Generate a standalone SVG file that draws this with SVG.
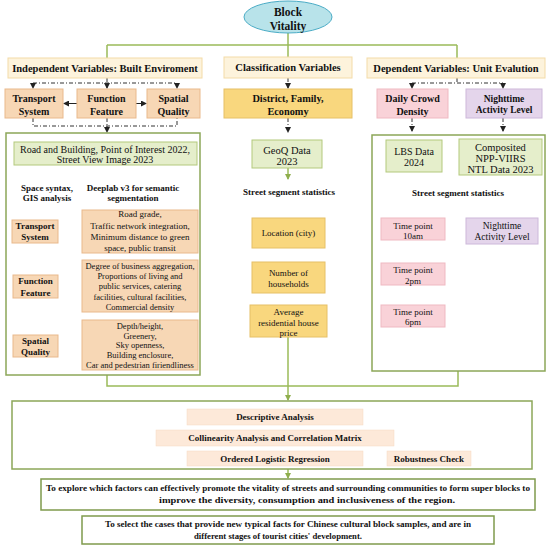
<svg xmlns="http://www.w3.org/2000/svg" width="550" height="547" viewBox="0 0 550 547">
<style>
text{font-family:"Liberation Serif","Times New Roman",serif;fill:#111;text-anchor:middle}
.b{font-weight:bold}
.hdr{fill:#fdf3dc;stroke:#f3dba8;stroke-width:1}
.peach{fill:#f7d7b5;stroke:#e9b98c;stroke-width:1}
.gold{fill:#f9d77e;stroke:#e6c067;stroke-width:1}
.lg{fill:#e5eecb;stroke:#b3c97d;stroke-width:1}
.pink{fill:#f9d2d8;stroke:#efb9c2;stroke-width:1}
.lav{fill:#e4d5eb;stroke:#cdb8da;stroke-width:1}
.ana{fill:#fde9d9;stroke:#f6d9c3;stroke-width:0.5}
.frame{fill:#fff;stroke:#8ca758;stroke-width:1.5}
.gl{fill:none;stroke:#9bbb59;stroke-width:1.5}
.dd{fill:none;stroke:#333;stroke-width:1;stroke-dasharray:4 2 1 2}
.bk{fill:none;stroke:#222;stroke-width:1}
.or{fill:none;stroke:#f0a35e;stroke-width:1}
.ord{fill:none;stroke:#f0a35e;stroke-width:1;stroke-dasharray:3 2}
</style>
<defs>
<marker id="ab" markerWidth="6" markerHeight="6" refX="5" refY="3" orient="auto" markerUnits="userSpaceOnUse"><path d="M0,0 L6,3 L0,6 z" fill="#222"/></marker>
<marker id="ag" markerWidth="6" markerHeight="6" refX="5" refY="3" orient="auto" markerUnits="userSpaceOnUse"><path d="M0,0 L6,3 L0,6 z" fill="#8fae4e"/></marker>
<marker id="ao" markerWidth="6" markerHeight="6" refX="5" refY="3" orient="auto" markerUnits="userSpaceOnUse"><path d="M0,0 L6,3 L0,6 z" fill="#f0a35e"/></marker>
</defs>

<g id="connectors">
<path class="gl" d="M288,33 V45 M107,45 H457 M107,45 V58 M288,45 V57 M457,45 V58"/>
<path class="dd" d="M107,78 V88" marker-end="url(#ab)"/>
<path class="dd" d="M33,83 H177"/>
<path class="dd" d="M33,83 V88" marker-end="url(#ab)"/>
<path class="dd" d="M177,83 V88" marker-end="url(#ab)"/>
<path class="bk" d="M77,103.5 H64" marker-end="url(#ab)"/>
<path class="bk" d="M136,103.5 H146" marker-end="url(#ab)"/>
<path class="dd" d="M33,118 V126 H177 V118 M107,118 V126"/>
<path class="dd" d="M107,126 V132" marker-end="url(#ab)"/>
<path class="gl" d="M47,165 V177" marker-end="url(#ag)"/>
<path class="gl" d="M148,165 V177" marker-end="url(#ag)"/>
<path class="or" d="M58,232 H81" marker-end="url(#ao)"/>
<path class="or" d="M58,287 H81" marker-end="url(#ao)"/>
<path class="dd" d="M288,78 V88" marker-end="url(#ab)"/>
<path class="dd" d="M288,118 V132" marker-end="url(#ab)"/>
<path class="gl" d="M288,168 V179" marker-end="url(#ag)"/>
<path class="dd" d="M457,78 V83 M412,83 H503"/>
<path class="dd" d="M412,83 V88" marker-end="url(#ab)"/>
<path class="dd" d="M503,83 V88" marker-end="url(#ab)"/>
<path class="dd" d="M412,118 V131" marker-end="url(#ab)"/>
<path class="dd" d="M503,118 V131" marker-end="url(#ab)"/>
<path class="gl" d="M412,172 V186" marker-end="url(#ag)"/>
<path class="gl" d="M503,175 V186" marker-end="url(#ag)"/>
<path class="gl" d="M107,375 V386 H458 V371"/>
<path class="gl" d="M288,337 V400" marker-end="url(#ag)"/>
<path class="ord" d="M387,458.5 H364" marker-end="url(#ao)"/>
<path class="gl" d="M288,469 V478" marker-end="url(#ag)"/>
</g>

<g id="block-vitality">
<ellipse cx="288" cy="17" rx="44" ry="16" fill="#b8e3ea" stroke="#4bacc6" stroke-width="1"/>
<text class="b" x="288" y="16" font-size="11.5">Block</text>
<text class="b" x="288" y="29.5" font-size="11.5">Vitality</text>
</g>

<g id="hdr-independent">
<rect class="hdr" x="8" y="58" width="194" height="20"/>
<text class="b" x="105" y="71.5" font-size="10.5">Independent Variables: Built Enviroment</text>
</g>
<g id="hdr-classification">
<rect class="hdr" x="224" y="57" width="128" height="21"/>
<text class="b" x="288" y="71" font-size="10.5">Classification Variables</text>
</g>
<g id="hdr-dependent">
<rect class="hdr" x="367" y="58" width="178" height="20"/>
<text class="b" x="456" y="71.5" font-size="10.5">Dependent Variables: Unit Evalution</text>
</g>

<g id="transport-top">
<rect class="peach" x="5" y="89" width="58" height="29"/>
<text class="b" x="34" y="101.5" font-size="10">Transport</text>
<text class="b" x="34" y="114.5" font-size="10">System</text>
</g>
<g id="function-top">
<rect class="peach" x="77" y="89" width="59" height="29"/>
<text class="b" x="106.5" y="101.5" font-size="10">Function</text>
<text class="b" x="106.5" y="114.5" font-size="10">Feature</text>
</g>
<g id="spatial-top">
<rect class="peach" x="147" y="89" width="53" height="29"/>
<text class="b" x="173.5" y="101.5" font-size="10">Spatial</text>
<text class="b" x="173.5" y="114.5" font-size="10">Quality</text>
</g>

<g id="district">
<rect class="gold" x="224" y="89" width="128" height="29"/>
<text class="b" x="288" y="101.5" font-size="10.3">District, Family,</text>
<text class="b" x="288" y="114.5" font-size="10.3">Economy</text>
</g>

<g id="daily-crowd">
<rect class="pink" x="377" y="89" width="71" height="29"/>
<text class="b" x="412.5" y="101.5" font-size="10">Daily Crowd</text>
<text class="b" x="412.5" y="114.5" font-size="10">Density</text>
</g>
<g id="nighttime-top">
<rect class="lav" x="466" y="89" width="76" height="29"/>
<text class="b" x="504" y="101.6" font-size="9.5">Nighttime</text>
<text class="b" x="504" y="113.3" font-size="9.5">Activity Level</text>
</g>

<g id="left-frame">
<rect class="frame" x="6" y="133" width="194" height="242"/>
</g>
<g id="left-data">
<rect class="lg" x="14" y="142" width="183" height="23"/>
<text x="105" y="152.5" font-size="10">Road and Building, Point of Interest 2022,</text>
<text x="105" y="162.5" font-size="10">Street View Image 2023</text>
</g>
<g id="space-syntax">
<text class="b" x="47" y="191" font-size="9">Space syntax,</text>
<text class="b" x="47" y="200.5" font-size="9">GIS analysis</text>
</g>
<g id="deeplab">
<text class="b" x="133" y="191" font-size="9">Deeplab v3 for semantic</text>
<text class="b" x="133" y="200.5" font-size="9">segmentation</text>
</g>

<g id="transport-inner">
<rect class="peach" x="12" y="220" width="46" height="23"/>
<text class="b" x="35" y="229" font-size="9">Transport</text>
<text class="b" x="35" y="240" font-size="9">System</text>
</g>
<g id="transport-desc">
<rect class="peach" x="82" y="210" width="116" height="43"/>
<text x="140" y="217.3" font-size="9">Road grade,</text>
<text x="140" y="228.7" font-size="9">Traffic network integration,</text>
<text x="140" y="239.7" font-size="9">Minimum distance to green</text>
<text x="140" y="250.7" font-size="9">space, public transit</text>
</g>

<g id="function-inner">
<rect class="peach" x="13" y="275" width="45" height="23"/>
<text class="b" x="35.5" y="284" font-size="9">Function</text>
<text class="b" x="35.5" y="295.5" font-size="9">Feature</text>
</g>
<g id="function-desc">
<rect class="peach" x="82" y="260" width="116" height="52"/>
<text x="140" y="269" font-size="8.5">Degree of business aggregation,</text>
<text x="140" y="279.2" font-size="8.5">Proportions of living and</text>
<text x="140" y="289.4" font-size="8.5">public services, catering</text>
<text x="140" y="299.6" font-size="8.5">facilities, cultural facilities,</text>
<text x="140" y="309.8" font-size="8.5">Commercial density</text>
</g>

<g id="spatial-inner">
<rect class="peach" x="13" y="335" width="45" height="22"/>
<text class="b" x="35.5" y="343.5" font-size="9">Spatial</text>
<text class="b" x="35.5" y="354.5" font-size="9">Quality</text>
</g>
<g id="spatial-desc">
<rect class="peach" x="82" y="320" width="116" height="50"/>
<text x="140" y="329" font-size="8.5">Depth/height,</text>
<text x="140" y="338.7" font-size="8.5">Greenery,</text>
<text x="140" y="348.4" font-size="8.5">Sky openness,</text>
<text x="140" y="358.1" font-size="8.5">Building enclosure,</text>
<text x="140" y="367.8" font-size="8.5">Car and pedestrian firiendliness</text>
</g>

<g id="geoq">
<rect class="lg" x="252" y="140" width="70" height="28"/>
<text x="287" y="153.5" font-size="10.5">GeoQ Data</text>
<text x="287" y="164.5" font-size="10.5">2023</text>
</g>
<g id="mid-stats">
<text class="b" x="289" y="195" font-size="9">Street segment statistics</text>
</g>
<g id="location">
<rect class="gold" x="252" y="218" width="73" height="30"/>
<text x="288.5" y="236" font-size="9">Location (city)</text>
</g>
<g id="households">
<rect class="gold" x="252" y="262" width="73" height="31"/>
<text x="288.5" y="276" font-size="9">Number of</text>
<text x="288.5" y="286.5" font-size="9">households</text>
</g>
<g id="house-price">
<rect class="gold" x="250" y="305" width="77" height="32"/>
<text x="288.5" y="315" font-size="9">Average</text>
<text x="288.5" y="325.5" font-size="9">residential house</text>
<text x="288.5" y="336" font-size="9">price</text>
</g>

<g id="right-frame">
<rect class="frame" x="372" y="135" width="173" height="236"/>
</g>
<g id="lbs">
<rect class="lg" x="386" y="140" width="56" height="32"/>
<text x="414" y="155.2" font-size="10">LBS Data</text>
<text x="414" y="165.7" font-size="10">2024</text>
</g>
<g id="npp">
<rect class="lg" x="459" y="139" width="83" height="36"/>
<text x="500.5" y="150.5" font-size="10.5">Composited</text>
<text x="500.5" y="162" font-size="10.5">NPP-VIIRS</text>
<text x="500.5" y="173" font-size="10.5">NTL Data 2023</text>
</g>
<g id="right-stats">
<text class="b" x="458" y="196" font-size="9">Street segment statistics</text>
</g>
<g id="t10">
<rect class="pink" x="381" y="218" width="64" height="22"/>
<text x="413" y="229.3" font-size="9">Time point</text>
<text x="413" y="238.8" font-size="9">10am</text>
</g>
<g id="nighttime-inner">
<rect class="lav" x="466" y="218" width="72" height="26"/>
<text x="502" y="229.3" font-size="9.5">Nighttime</text>
<text x="502" y="240" font-size="9.5">Activity Level</text>
</g>
<g id="t2">
<rect class="pink" x="381" y="263" width="64" height="22"/>
<text x="413" y="273.2" font-size="9">Time point</text>
<text x="413" y="283.7" font-size="9">2pm</text>
</g>
<g id="t6">
<rect class="pink" x="381" y="305" width="64" height="22"/>
<text x="413" y="314.9" font-size="9">Time point</text>
<text x="413" y="325.3" font-size="9">6pm</text>
</g>

<g id="analysis-frame">
<rect class="frame" x="12" y="401" width="520" height="68"/>
</g>
<g id="descriptive">
<rect class="ana" x="187" y="409" width="176" height="16"/>
<text class="b" x="275" y="420.2" font-size="9">Descriptive Analysis</text>
</g>
<g id="collinearity">
<rect class="ana" x="156" y="430" width="238" height="16"/>
<text class="b" x="275" y="441.2" font-size="9">Collinearity Analysis and Correlation Matrix</text>
</g>
<g id="ordered">
<rect class="ana" x="187" y="451" width="176" height="15"/>
<text class="b" x="275" y="461.8" font-size="9">Ordered Logistic Regression</text>
</g>
<g id="robustness">
<rect class="ana" x="387" y="451" width="84" height="15"/>
<text class="b" x="429" y="461.8" font-size="9">Robustness Check</text>
</g>

<g id="goal-1">
<rect x="41" y="479" width="494" height="31" fill="#fff" stroke="#7f9a4c" stroke-width="1.5"/>
<text class="b" x="288" y="490.5" font-size="9" textLength="484" lengthAdjust="spacingAndGlyphs">To explore which factors can effectively promote the vitality of streets and surrounding communities to form  super blocks to</text>
<text class="b" x="307" y="502.5" font-size="9" textLength="296" lengthAdjust="spacingAndGlyphs">improve the diversity, consumption and inclusiveness of the region.</text>
</g>
<g id="goal-2">
<rect x="82" y="516" width="412" height="28" fill="#fff" stroke="#7f9a4c" stroke-width="1.5"/>
<text class="b" x="288" y="527" font-size="9" textLength="366" lengthAdjust="spacingAndGlyphs">To select the cases that provide new typical facts for Chinese cultural block samples, and are in</text>
<text class="b" x="278" y="538.5" font-size="9" textLength="168" lengthAdjust="spacingAndGlyphs">different stages of tourist cities' development.</text>
</g>
</svg>
